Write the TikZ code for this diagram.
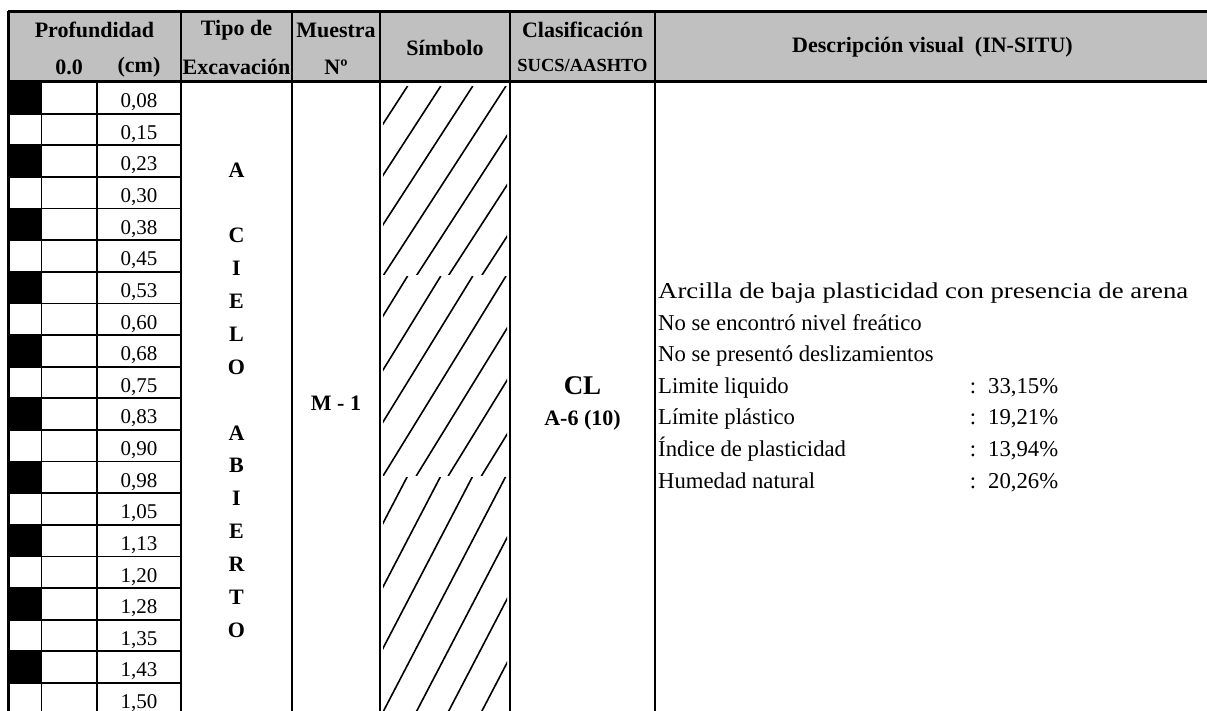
\documentclass[tikz,border=0pt]{standalone}
\usepackage{fontspec}
\setmainfont{Liberation Serif}
\usetikzlibrary{positioning}
\definecolor{headgray}{HTML}{C0C0C0}

\begin{document}
\begin{tikzpicture}[x=1pt, y=-1pt,
        head/.style={font=\fontsize{22}{24}\selectfont\bfseries, inner sep=0pt},
        cell/.style={font=\fontsize{21}{24}\selectfont, inner sep=0pt, anchor=base},
        desc/.style={font=\fontsize{22.7}{26}\selectfont, inner sep=0pt, anchor=base west},
        rule/.style={line width=2pt},
        hatch/.style={line width=1.6pt, line cap=round}]
    \useasboundingbox (0,0) rectangle (1207,711);
    \fill[headgray] (8,13) rectangle (1207,82);
    % profundidad: cuadros negros y filas
    \foreach \i in {0,2,...,18}
        \fill ({8},{82+31.63*\i}) rectangle ({41},{82+31.63*(\i+1)});
    \foreach \i in {1,...,19}
        \draw[line width=1.8pt] ({8},{82+31.63*\i}) -- ({181},{82+31.63*\i});
    \foreach \d [count=\i] in {{0,08},{0,15},{0,23},{0,30},{0,38},{0,45},{0,53},{0,60},{0,68},{0,75},
                                {0,83},{0,90},{0,98},{1,05},{1,13},{1,20},{1,28},{1,35},{1,43},{1,50}}
        \node[cell] (prof\i) at ({139},{82+31.63*\i-6}) {\d};
    % columnas
    \draw[line width=1pt] (41,82) -- (41,716);
    \draw[rule] (97,82) -- (97,716);
    \foreach \x in {181,292,380,510,655}
        \draw[rule] (\x,13) -- (\x,716);
    \draw[line width=3pt] (8,82) -- (1207,82);
    \draw[line width=3pt] (8,11.5) -- (1207,11.5);
    \draw[line width=3pt] (8,11.5) -- (8,716);
    % encabezados
    \node[head] (profund) at (94.5,30) {Profundidad};
    \node[head] (cero) at (69,67) {0.0};
    \node[head] (cm) at (139,67) {(cm)};
    \node[head] (tipo) at (236.5,30) {Tipo de};
    \node[head] (excav) at (236.5,67) {Excavación};
    \node[head] (muestra) at (336,30) {Muestra};
    \node[head] (numero) at (336,67) {Nº};
    \node[head] (simbolo) at (445,48) {Símbolo};
    \node[head] (clasif) at (582.5,30) {Clasificación};
    \node[head, font=\fontsize{18.5}{20}\selectfont\bfseries] (sucs) at (582.5,65) {SUCS/AASHTO};
    \node[head, anchor=west] (descrip) at (792,47) {Descripción visual\ \ (IN-SITU)};
    % tipo de excavacion
    \foreach \l/\k in {A/0,C/2,I/3,E/4,L/5,O/6,A/8,B/9,I/10,E/11,R/12,T/13,O/14}
        \node[head] (tipo\k) at ({236.5},{170+32.86*\k}) {\l};
    \node[head, anchor=base] (m1) at (336,410) {M - 1};
    % simbolo
    \foreach \ta/\tb in {86/276,276/476,476/712}{
        \begin{scope}
            \clip (383,\ta+1) rectangle (507,\tb-1);
            \foreach \s in {0.2,0.47,0.73,1,1.27,1.53,1.8}
                \draw[hatch] ({383+123*(\s-1)},{\tb}) -- ({383+123*\s},{\ta});
        \end{scope}
    }
    % clasificacion
    \node[head, anchor=base, font=\fontsize{27}{28}\selectfont\bfseries] (cl) at (582.5,394) {CL};
    \node[head, anchor=base] (aashto) at (582.5,425) {A-6 (10)};
    % descripcion
    \node[desc] (d1) at ({658},{82+31.63*7-5})
        {\resizebox{530pt}{\height}{Arcilla de baja plasticidad con presencia de arena}};
    \node[desc] (d2) at ({658},{82+31.63*8-5}) {No se encontró nivel freático};
    \node[desc] (d3) at ({658},{82+31.63*9-5}) {No se presentó deslizamientos};
    \foreach \t/\v [count=\i from 10] in {{Limite liquido}/{33,15\%}, {Límite plástico}/{19,21\%},
                                          {Índice de plasticidad}/{13,94\%}, {Humedad natural}/{20,26\%}}{
        \node[desc] (lab\i) at ({658},{82+31.63*\i-5}) {\t};
        \node[desc, anchor=base] (col\i) at ({973},{82+31.63*\i-5}) {:};
        \node[desc] (val\i) at ({988},{82+31.63*\i-5}) {\v};
    }
\end{tikzpicture}
\end{document}
